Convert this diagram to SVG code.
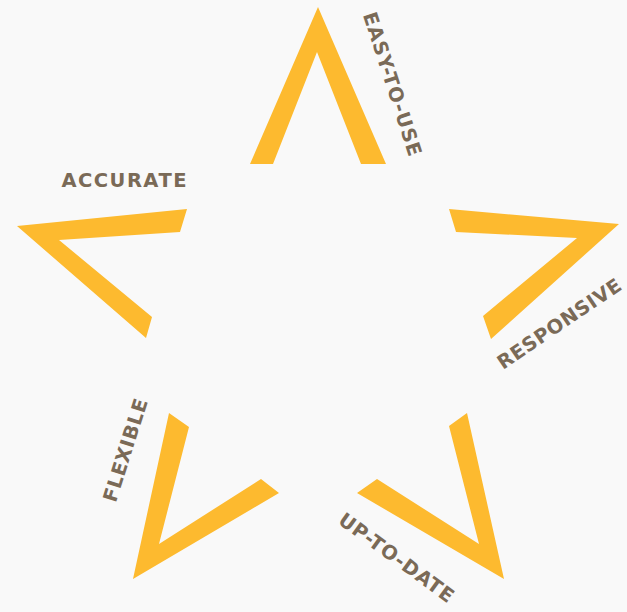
<svg xmlns="http://www.w3.org/2000/svg" width="627" height="612" viewBox="0 0 627 612">
  <style>
    .arm { fill: #FDBA2F; }
    .lbl { font-family: "DejaVu Sans", "Liberation Sans", sans-serif; font-weight: bold; font-size: 19.5px; fill: #7A6A57; text-anchor: middle; }
  </style>
  <rect x="0" y="0" width="627" height="612" fill="#F9F9F9"/>
  <g id="point-easy-to-use">
    <polygon class="arm" points="318,7 386,164 361,164 317,52 273,164 250,164"/>
    <text class="lbl" transform="translate(386,86) rotate(72)" x="0" y="0" textLength="150" lengthAdjust="spacing">EASY-TO-USE</text>
  </g>
  <g id="point-accurate">
    <polygon class="arm" points="17,226 187,209 180,232 59,240 152,317 146,338"/>
    <text class="lbl" x="124" y="186.7" textLength="125" lengthAdjust="spacing">ACCURATE</text>
  </g>
  <g id="point-responsive">
    <polygon class="arm" points="449,209 619,224 491,339 483,316 577,238 456,232"/>
    <text class="lbl" transform="translate(563,329.3) rotate(-34.1)" x="0" y="0" textLength="145" lengthAdjust="spacing">RESPONSIVE</text>
  </g>
  <g id="point-flexible">
    <polygon class="arm" points="169,413 189,427 159,544 261,479 279,493 133,579"/>
    <text class="lbl" transform="translate(131.8,452.2) rotate(-72.5)" x="0" y="0" textLength="107" lengthAdjust="spacing">FLEXIBLE</text>
  </g>
  <g id="point-up-to-date">
    <polygon class="arm" points="467,413 504,579 357,493 377,479 479,544 449,426"/>
    <text class="lbl" transform="translate(392.4,563.1) rotate(36.2)" x="0" y="0" textLength="137" lengthAdjust="spacing">UP-TO-DATE</text>
  </g>
  <g id="connectors"/>
</svg>
